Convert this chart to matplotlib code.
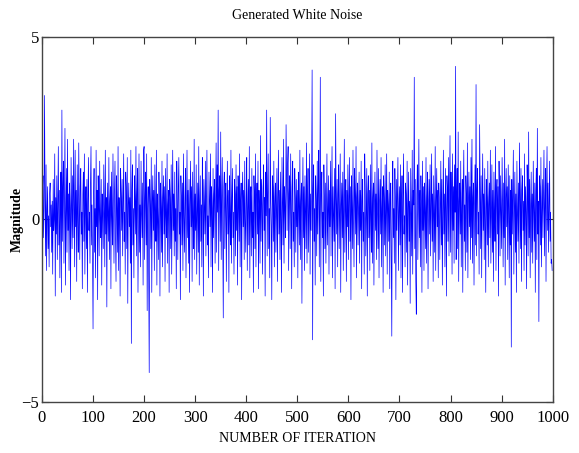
import numpy as np
import matplotlib.pyplot as plt

# hand-read noise samples, 20 per row (index 0..999)
noise = [
    -2.1, 0.8, 1.2, -0.5, 0.3, 3.4, 0.6, -1.0, 1.5, -1.4, 0.2, 0.9, -0.8, 0.1, -1.3, 0.7, 1.0, -0.2, 0.4, -0.9,
    0.5, -1.5, 1.1, -0.3, 0.0, 1.8, -2.1, 0.6, -0.4, 1.2, -1.1, 0.3, 2.0, -0.7, 0.8, -1.6, 0.2, 1.3, -2.0, 3.0,
    -0.6, 0.9, 1.6, -1.2, 0.4, 2.5, -1.8, 0.1, 1.4, -0.9, 2.2, -0.3, 0.7, -1.4, 1.0, 0.3, -2.2, 1.7, 0.5, -0.8,
    1.2, -0.5, 2.2, 0.4, -1.3, 1.9, -0.2, 0.8, -1.7, 1.5, 0.1, -0.9, 2.1, 0.6, -1.1, 0.9, 1.4, -0.4, 0.2, -1.9,
    0.7, 1.3, -0.6, 1.8, -1.5, 0.3, 0.9, -0.8, 1.1, -2.0, 0.5, 1.7, -0.3, 0.2, -1.2, 1.0, 2.0, -0.7, 0.4, -1.0,
    -3.0, 0.6, 1.4, -0.9, 0.3, -1.6, 1.9, -0.2, 0.8, -2.2, 1.2, 0.4, -1.0, 1.6, 0.0, -0.5, 1.1, -1.8, 0.7, 0.2,
    -0.8, 1.5, 0.3, -1.3, 1.9, -0.4, 0.6, -2.4, 1.0, 0.2, -0.6, 1.7, -1.1, 0.5, 0.9, -1.9, 1.3, 0.1, -0.7, 1.8,
    0.4, -1.2, 0.8, 1.6, -0.5, -1.7, 1.2, 0.3, -0.9, 2.0, -1.4, 0.6, 0.1, -2.1, 1.4, 0.7, -0.3, 1.1, -1.0, 0.5,
    1.8, -0.6, 0.2, -1.5, 1.3, 0.9, -0.8, 1.7, -2.3, 0.4, 1.0, -0.2, 0.6, -1.2, 1.9, -3.4, 0.8, 1.5, -0.7, 0.3,
    -1.6, 1.2, 0.5, -0.4, 2.0, -1.0, 0.7, 1.4, -2.0, 0.1, 1.8, -0.9, 0.4, -1.3, 1.6, 0.2, -0.5, 1.0, -1.8, 1.9,
    2.0, -1.1, 0.6, 1.3, -0.7, 1.8, -2.5, 0.3, 0.9, -1.5, -4.2, 1.1, 0.4, -0.8, 1.7, -2.0, 0.5, 1.2, -0.3, 0.8,
    -1.4, 1.5, 0.2, -0.6, 1.9, -1.8, 0.7, 0.0, -1.1, 1.3, 0.5, -2.1, 1.0, 0.3, -0.9, 1.6, -1.3, 0.6, 1.2, -0.4,
    0.9, -1.7, 1.4, 0.1, -0.5, 1.8, -1.2, 0.4, 0.8, -2.0, 1.1, 0.6, -0.8, 1.5, -1.5, 0.2, 1.9, -0.3, 0.7, -1.0,
    1.3, -0.6, 0.3, -1.9, 1.6, 0.5, -1.1, 0.9, 1.7, -0.4, 0.2, -2.2, 1.2, 0.6, -0.7, 1.0, -1.4, 1.8, 0.1, -0.9,
    0.6, 1.4, -1.6, 0.3, 1.9, -0.5, 0.8, -1.2, 1.1, -2.0, 0.4, 1.6, -0.2, 0.9, -1.7, 1.3, 0.0, -0.8, 2.2, -1.1,
    0.7, -0.3, 1.5, -1.5, 0.2, 1.0, -0.9, 2.0, -1.8, 0.5, 1.2, -0.6, 0.4, -1.3, 1.7, 0.8, -2.1, 1.1, 0.3, -0.4,
    1.6, -1.0, 0.6, 1.9, -0.7, 0.1, -1.6, 1.3, 0.5, -0.2, 1.8, -1.3, 0.9, 0.3, -2.0, 1.4, -0.5, 0.7, 1.1, -1.2,
    0.4, 2.1, -0.9, 1.5, 0.2, 3.0, -1.4, 0.8, 1.2, -0.6, 2.4, -1.1, 0.5, 1.7, -0.3, -2.7, 0.9, 1.3, -0.8, 0.6,
    1.0, -1.7, 0.3, 1.6, -0.4, 0.8, -2.0, 1.2, 0.1, -0.7, 1.9, -1.2, 0.6, 1.4, -0.5, 0.2, -1.5, 1.1, 0.7, -1.0,
    1.5, -0.3, 0.9, -1.8, 1.2, 0.4, -0.6, 1.8, -1.3, 0.5, 1.0, -2.2, 0.7, 1.3, -0.2, 0.8, -1.1, 1.6, 0.0, -0.9,
    0.6, 1.7, -1.4, 0.3, 1.1, -0.7, 2.0, -1.6, 0.4, 0.9, -1.0, 1.4, -0.5, 0.2, -2.0, 1.2, 0.7, -0.8, 1.8, -1.3,
    0.5, 1.0, -0.4, 1.6, -1.9, 0.8, 0.2, -1.2, 2.3, -0.6, 1.1, 0.4, -1.5, 0.9, 1.5, -0.3, 0.6, -2.1, 1.3, 0.1,
    3.0, -1.0, 0.7, 1.8, -0.8, 0.3, -1.6, 2.8, 0.5, -0.2, -2.2, 1.2, 0.9, -0.6, 1.6, -1.3, 0.4, 1.0, -0.9, 0.2,
    1.4, -1.7, 0.6, 1.9, -0.4, 0.8, -1.1, 1.3, 0.0, -2.0, 1.7, 0.5, -0.7, 2.2, -1.2, 0.9, 0.3, -0.5, 2.6, 1.0,
    -0.3, 1.5, 2.0, -1.4, 0.7, 1.2, -0.8, 1.8, 0.4, -1.9, 0.9, 1.6, -0.6, 0.2, -1.3, 1.4, 0.6, -0.9, 1.1, -0.2,
    0.8, -1.6, 1.3, 0.4, -0.7, 1.9, -1.1, 0.5, 1.0, -2.3, 0.3, 1.7, -0.5, 0.9, -1.4, 1.2, 0.1, -0.8, 2.1, -1.2,
    0.6, 1.4, -0.9, 0.2, 1.8, -1.5, 0.7, -0.3, 1.1, 4.1, -3.3, 0.8, 1.5, -0.6, 0.3, -1.8, 1.2, 0.5, -1.0, 1.6,
    -0.4, 0.9, 1.9, -1.3, 0.4, 3.9, -1.7, 0.7, 1.3, -0.5, 0.2, -2.1, 1.5, 0.6, -0.8, 1.0, -1.2, 0.4, 1.8, -0.7,
    0.3, 1.2, -1.5, 0.8, -0.2, 1.6, -1.0, 0.5, 2.0, -1.6, 0.9, 0.1, -0.6, 1.4, -1.9, 2.9, 0.6, -0.4, 1.1, -1.3,
    0.7, 1.5, -0.8, 0.2, 1.8, -2.0, 0.4, 1.0, -0.5, 1.3, -1.4, 0.6, 2.2, -0.9, 0.3, 1.1, -1.7, 0.8, -0.2, 1.5,
    -1.1, 0.5, 1.7, -0.6, 0.9, -2.2, 1.2, 0.3, -0.8, 1.9, 0.0, -1.3, 1.4, 0.7, -0.4, 2.0, -1.6, 0.6, 1.0, -0.7,
    0.4, 1.3, -1.2, 0.8, -0.3, 1.6, -1.9, 0.5, 1.1, -0.6, 0.2, -1.5, 1.8, 0.9, -1.0, 0.3, 1.4, -2.1, 0.7, 1.2,
    -0.5, 0.8, -1.4, 1.5, 0.1, -0.9, 2.1, -1.2, 0.6, 1.0, -1.8, 0.4, 1.3, -0.3, 0.7, -1.1, 1.9, 0.2, -0.8, 1.4,
    -1.6, 0.5, 1.1, -0.4, 1.7, -1.3, 0.3, 0.9, -2.0, 1.2, 0.6, -0.7, 1.5, -1.0, 0.2, 1.8, -1.5, 0.8, 0.4, -0.6,
    1.3, -1.9, 0.7, 1.0, -0.9, -3.2, 0.9, 1.6, -0.5, 0.3, -1.2, 1.4, 0.6, -2.2, 1.1, -0.3, 0.8, 1.7, -1.4, 0.2,
    0.9, -0.7, 1.5, -1.6, 0.4, 1.2, -2.0, 0.6, 1.8, -0.4, 0.1, -1.3, 1.0, 0.7, -0.9, 1.6, -1.8, 0.3, 1.3, -0.6,
    0.5, -2.3, 1.4, 0.2, -1.0, 1.9, -1.5, 0.8, 0.4, 3.9, -0.8, 1.1, -1.7, -2.6, 0.7, 1.5, -1.1, 0.3, 2.2, -0.5,
    0.8, -1.3, 1.2, 0.4, -2.0, 1.6, -0.3, 0.9, -1.4, 1.0, 0.2, -0.8, 1.7, -1.2, 0.6, 1.3, -1.9, 0.5, 1.1, -0.4,
    1.5, -1.0, 0.3, 1.8, -0.6, 0.7, -1.7, 1.2, 0.1, -0.9, 2.0, -1.4, 0.5, 1.4, -0.2, 0.8, -1.6, 1.0, 0.6, -1.1,
    0.4, 1.6, -0.7, 1.1, -1.8, 0.2, 1.9, -0.4, 0.7, -1.3, 1.4, 0.3, -2.1, 1.2, 0.8, -0.6, 1.7, -1.0, 0.5, 2.3,
    -0.9, 1.3, 0.6, -1.5, 1.8, -0.3, 0.9, -1.2, 1.5, 0.2, 4.2, -1.1, 0.7, 1.4, -0.8, 2.4, -1.7, 0.5, 1.0, -0.4,
    1.6, -1.3, 0.3, 1.1, -2.0, 0.8, 1.9, -0.6, 0.4, -1.4, 1.2, 0.7, -0.9, 2.1, -1.6, 0.5, 1.3, -0.2, 0.9, -1.1,
    1.7, -0.5, 2.2, -1.2, 0.6, 1.0, -1.8, 0.3, 1.5, -0.7, 3.7, -1.0, 0.8, 1.4, -0.4, 0.2, -1.5, 2.6, 0.9, -0.8,
    1.2, -1.6, 0.5, 1.8, -0.3, 0.7, -1.1, 1.4, 0.0, -2.0, 1.1, 0.6, -0.7, 1.6, -1.3, 0.4, 1.0, -0.5, 1.9, -1.2,
    0.3, 1.5, -0.9, 0.8, -1.7, 1.3, 0.2, -0.6, 2.0, -1.4, 0.7, 1.1, -0.4, 0.9, -2.1, 1.6, 0.5, -1.0, 1.2, 0.1,
    -0.8, 1.7, 0.4, -1.3, 1.0, -0.5, 2.2, -1.8, 0.6, 1.4, -0.2, 0.9, -1.1, 1.5, 0.3, -1.6, 1.2, -0.7, 0.8, -3.5,
    1.1, -0.4, 0.6, 1.9, -1.5, 0.3, 1.3, -0.9, 0.7, -2.0, 1.6, 0.2, -0.6, 1.0, -1.2, 2.1, 0.5, -0.8, 1.4, -1.7,
    0.8, 1.2, -0.3, 0.5, -1.4, 1.8, -0.7, 0.9, 0.2, -1.9, 1.5, 0.6, -1.0, 2.4, -0.5, 1.1, -1.6, 0.4, 1.3, -0.9,
    0.7, -1.2, 1.6, 0.3, -0.6, 1.0, -2.0, 0.8, 1.4, -1.1, 2.5, -0.4, 0.5, -2.8, 1.2, 0.9, -0.7, 1.7, -1.3, 0.2,
    1.1, -0.5, 0.6, 1.9, -1.0, 0.4, 1.4, -1.7, 0.8, 2.0, -0.3, 1.0, -0.9, 0.5, 1.6, -0.6, 0.2, -1.2, -1.1, -1.4,
]
xticks = list(range(0, 1001, 100))
yticks = [-5, 0, 5]

plt.rcParams['font.family'] = ['Liberation Serif', 'DejaVu Serif']

fig = plt.figure(figsize=(5.79, 4.53), dpi=100)
ax = fig.add_axes([0.0725, 0.113, 0.882, 0.805])

ax.plot(np.arange(len(noise)), noise, color='#0000ff', linewidth=0.5)

ax.set_xlim(0, 1000)
ax.set_ylim(-5, 5)
ax.set_xticks(xticks)
ax.set_yticks(yticks)
ax.tick_params(direction='in', top=True, right=True, labelsize=12, length=5,
               width=0.8, color='#333333')
ax.tick_params(axis='x', pad=6)
ax.tick_params(axis='y', pad=2)
for s in ax.spines.values():
    s.set_color('#444444')
    s.set_linewidth(1.0)

ax.set_title('Generated White Noise', fontsize=10, pad=13)
ax.set_xlabel('NUMBER OF ITERATION', fontsize=10, labelpad=4)
ax.set_ylabel('Magnitude', fontsize=10, fontweight='bold')
ax.yaxis.set_label_coords(-0.035, 0.5)

fig.savefig('out.png', dpi=100)
